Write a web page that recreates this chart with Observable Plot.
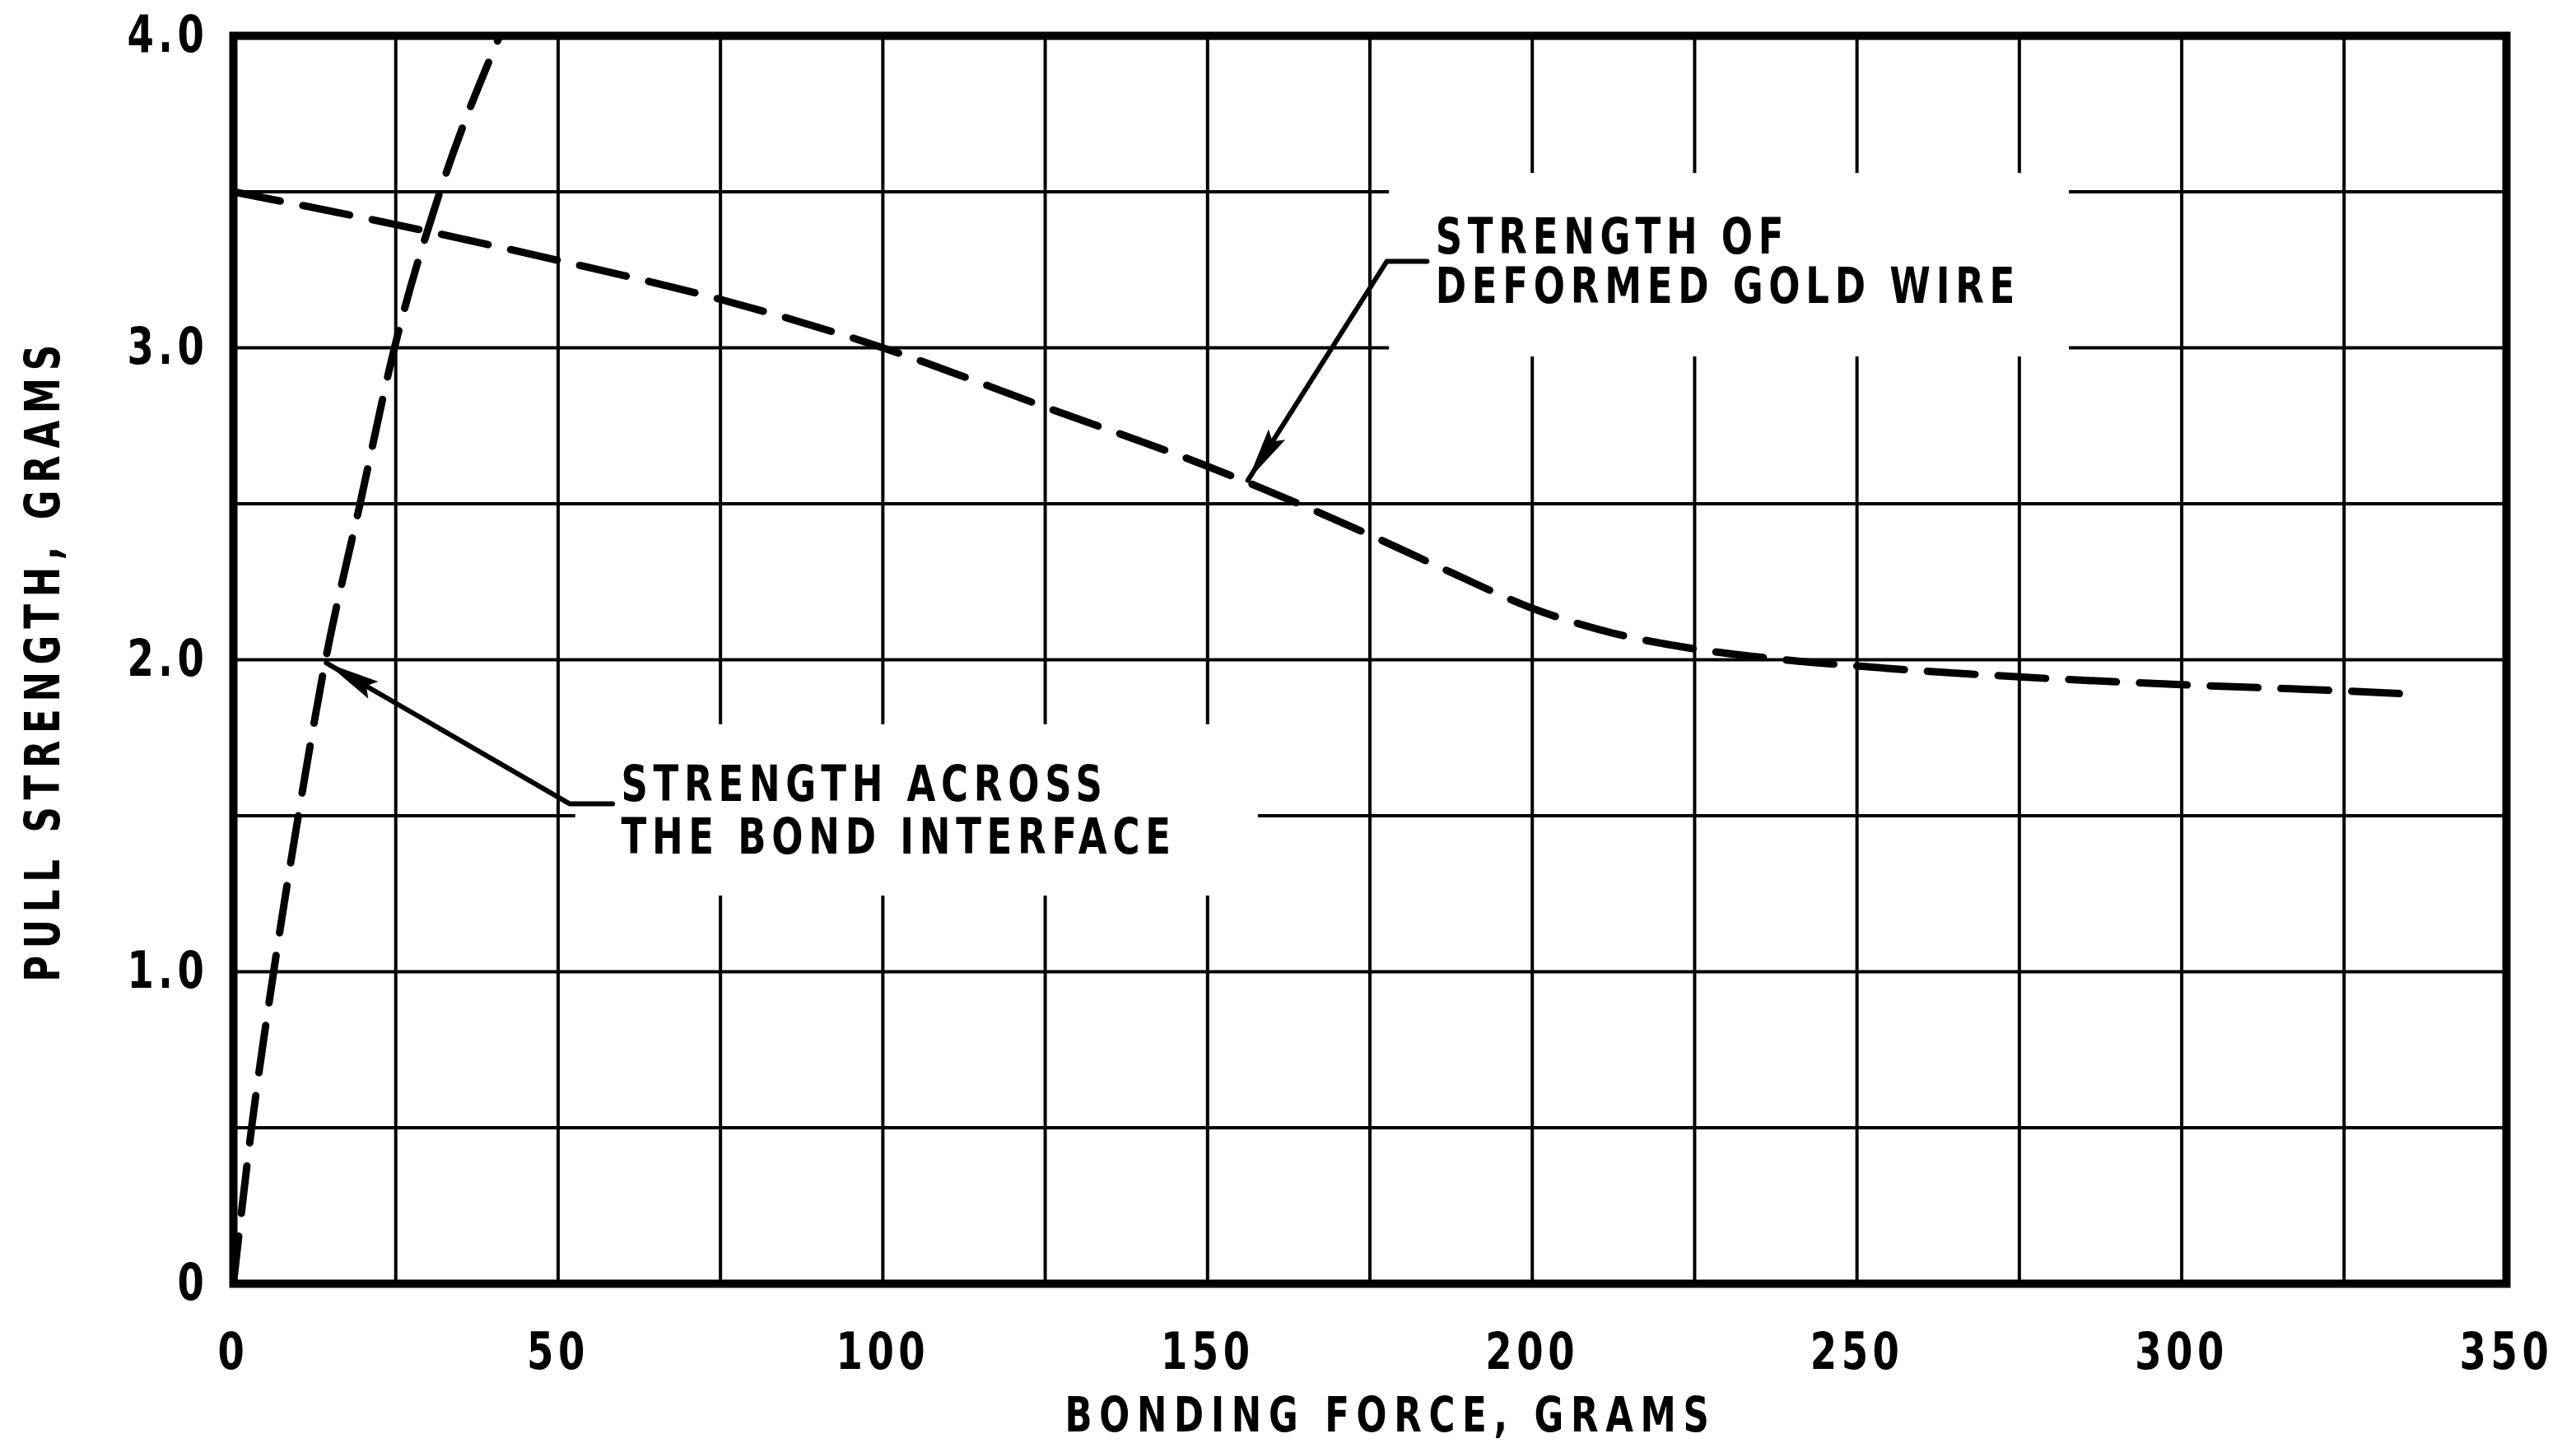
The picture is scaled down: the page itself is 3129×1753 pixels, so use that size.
<!DOCTYPE html>
<html>
<head>
<meta charset="utf-8">
<script src="https://cdn.jsdelivr.net/npm/d3@7"></script>
<script src="https://cdn.jsdelivr.net/npm/@observablehq/plot@0.6"></script>
<style>
  html, body { margin: 0; padding: 0; background: #fff; }
  #chart svg { display: block; }
  #chart g[aria-label="x-axis tick label"] text,
  #chart g[aria-label="y-axis tick label"] text { letter-spacing: 0.12em; }
  #chart g.note text { letter-spacing: 0.15em; }
  #chart g.title text { letter-spacing: 0.2em; }
</style>
</head>
<body>
<div id="chart"></div>
<script>
// Pull strength of thermocompression gold-wire bonds vs. bonding force.

// Strength across the bond interface (steep rising curve)
const interfaceForce    = [0, 2.8, 6.2, 10.0, 14.2, 19.5, 24.8, 31.8, 41.0];
const interfaceStrength = [0, 0.5, 1.0, 1.5, 2.0, 2.5, 3.0, 3.5, 4.0];

// Strength of the deformed gold wire (slowly falling curve)
const wireForce    = [0, 25, 50, 75, 100, 125, 150, 175, 187.5, 200, 212.5, 225, 237.5, 250, 275, 300, 325, 335];
const wireStrength = [3.5, 3.395, 3.28, 3.155, 3.0, 2.81, 2.62, 2.40, 2.28, 2.165, 2.085, 2.035, 2.003, 1.98, 1.945, 1.92, 1.90, 1.89];

// Axes
const xTicks = [0, 50, 100, 150, 200, 250, 300, 350];
const yTicks = [0, 1, 2, 3, 4];
const yTickLabels = ["0", "1.0", "2.0", "3.0", "4.0"];
const xGrid = [25, 50, 75, 100, 125, 150, 175, 200, 225, 250, 275, 300, 325];
const yGrid = [0.5, 1.0, 1.5, 2.0, 2.5, 3.0, 3.5];
const xTitle = "BONDING FORCE, GRAMS";
const yTitle = "PULL STRENGTH, GRAMS";

// Callout texts
const wireNote = "STRENGTH OF\nDEFORMED GOLD WIRE";
const interfaceNote = "STRENGTH ACROSS\nTHE BOND INTERFACE";

const LETTERING = '"DejaVu Sans", "Liberation Sans", sans-serif';
const CONDENSE = 0.75;  // narrow drafting-style lettering

const interfaceCurve = interfaceForce.map((x, i) => ({x, y: interfaceStrength[i]}));
const wireCurve = wireForce.map((x, i) => ({x, y: wireStrength[i]}));

// Blank panels behind each callout (the grid is interrupted there)
const panels = [
  {x1: 178.0, x2: 282.7, y1: 2.971, y2: 3.559},
  {x1: 52.7,  x2: 157.8, y1: 1.243, y2: 1.792}
];

// Leaders: short hook next to the text, then a straight run to the curve
const wireLeader = [{x: 183.8, y: 3.277}, {x: 177.6, y: 3.277}, {x: 156.2, y: 2.575}];
const interfaceLeader = [{x: 58.4, y: 1.538}, {x: 51.8, y: 1.538}, {x: 14.3, y: 1.99}];

const ink = "black";
const dashed = {stroke: ink, strokeWidth: 9, strokeDasharray: "58,28", strokeLinecap: "round", curve: "monotone-x"};
const leaderStyle = {stroke: ink, strokeWidth: 6, strokeLinecap: "round", strokeLinejoin: "round", className: "leader"};
const noteStyle = {textAnchor: "start", lineAnchor: "middle", fontSize: 60, fontWeight: "bold", fill: ink, className: "note"};

const chart = Plot.plot({
  width: 3129,
  height: 1753,
  marginLeft: 283,
  marginRight: 85,
  marginTop: 43,
  marginBottom: 194,
  x: {domain: [0, 350]},
  y: {domain: [0, 4]},
  style: {background: "white", color: ink, fontFamily: LETTERING},
  marks: [
    Plot.ruleX(xGrid, {stroke: ink, strokeWidth: 4}),
    Plot.ruleY(yGrid, {stroke: ink, strokeWidth: 4}),
    Plot.rect(panels, {x1: "x1", x2: "x2", y1: "y1", y2: "y2", fill: "white"}),
    Plot.line(wireCurve, {x: "x", y: "y", ...dashed}),
    Plot.line(interfaceCurve, {x: "x", y: "y", ...dashed}),
    Plot.frame({stroke: ink, strokeWidth: 10}),
    Plot.line(wireLeader, {x: "x", y: "y", ...leaderStyle}),
    Plot.line(interfaceLeader, {x: "x", y: "y", ...leaderStyle}),
    Plot.text([wireNote], {x: 185.1, y: 3.274, lineHeight: 1.0, ...noteStyle}),
    Plot.text([interfaceNote], {x: 59.7, y: 1.518, lineHeight: 1.07, ...noteStyle}),
    Plot.axisX({ticks: xTicks, tickSize: 0, tickPadding: 59, tickFormat: d => String(d),
      fontSize: 62, fontWeight: "bold", label: null}),
    Plot.axisY({ticks: yTicks, tickSize: 0, tickPadding: 30, tickFormat: d => yTickLabels[yTicks.indexOf(d)],
      fontSize: 62, fontWeight: "bold", label: null}),
    Plot.text([xTitle], {frameAnchor: "bottom", dx: 25, dy: 161, lineAnchor: "middle", textAnchor: "middle",
      fontSize: 58, fontWeight: "bold", fill: ink, className: "title"}),
    Plot.text([yTitle], {frameAnchor: "left", dx: -230, rotate: -90, lineAnchor: "middle", textAnchor: "middle",
      fontSize: 58, fontWeight: "bold", fill: ink, className: "title"})
  ]
});

document.getElementById("chart").appendChild(chart);

// Condensed lettering: squeeze every label (or label line) horizontally by the same factor
function condense(node) {
  const len = node.getComputedTextLength();
  node.setAttribute("textLength", (len * CONDENSE).toFixed(1));
  node.setAttribute("lengthAdjust", "spacingAndGlyphs");
}
const svg = d3.select(chart);
svg.selectAll('g.note text, g.title text, g[aria-label="x-axis tick label"] text, g[aria-label="y-axis tick label"] text')
  .each(function() {
    const lines = this.querySelectorAll("tspan");
    if (lines.length) lines.forEach(condense);
    else condense(this);
  });

// Filled, drafting-style arrowheads at the ends of the leaders
const defs = svg.insert("defs", ":first-child");
defs.append("marker")
    .attr("id", "dart")
    .attr("viewBox", "0 0 66 26")
    .attr("refX", 66)
    .attr("refY", 13)
    .attr("markerWidth", 66)
    .attr("markerHeight", 26)
    .attr("markerUnits", "userSpaceOnUse")
    .attr("orient", "auto")
  .append("path")
    .attr("d", "M0,1 L66,13 L0,25 L10,13 Z")
    .attr("fill", ink);
svg.selectAll("g.leader path").attr("marker-end", "url(#dart)");
</script>
</body>
</html>
